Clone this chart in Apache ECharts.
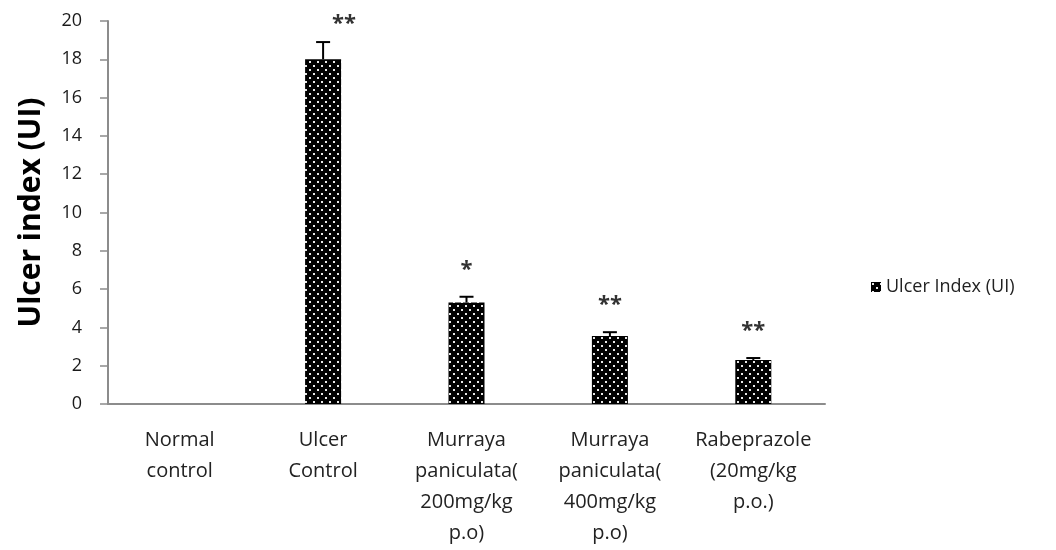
<!DOCTYPE html>
<html>
<head>
<meta charset="utf-8">
<script src="https://cdn.jsdelivr.net/npm/echarts@6/dist/echarts.min.js"></script>
<style>html,body{margin:0;padding:0;background:#fff}#c{width:1056px;height:550px}</style>
</head>
<body>
<div id="c"></div>
<script>
const categories = ['Normal\ncontrol', 'Ulcer\nControl', 'Murraya\npaniculata(\n200mg/kg\np.o)', 'Murraya\npaniculata(\n400mg/kg\np.o)', 'Rabeprazole\n(20mg/kg\np.o.)'];
const values = [0, 18.0, 5.3, 3.55, 2.3];
const errors = [0, 0.9, 0.3, 0.2, 0.1];
const significance = ['', '**', '*', '**', '**'];
const seriesName = 'Ulcer Index (UI)';
const yAxisTitle = 'Ulcer index (UI)';

function makePattern() {
  const c = document.createElement('canvas');
  c.width = 8; c.height = 8;
  const ctx = c.getContext('2d');
  ctx.fillStyle = '#000'; ctx.fillRect(0, 0, 8, 8);
  ctx.fillStyle = '#e8e8e8';
  ctx.fillRect(1, 1, 2, 2);
  ctx.fillRect(5, 5, 2, 2);
  return c;
}
const pattern = { image: makePattern(), repeat: 'repeat' };
const FONT = '"Open Sans", sans-serif';

const chart = echarts.init(document.getElementById('c'));
chart.setOption({
  animation: false,
  grid: { left: 108, right: 231, top: 21, bottom: 146, containLabel: false },
  legend: {
    data: [{ name: seriesName, icon: 'rect' }],
    left: 866, top: 273, itemWidth: 10, itemHeight: 10, itemGap: 6,
    textStyle: { fontFamily: FONT, fontSize: 18, color: '#222' }
  },
  xAxis: {
    type: 'category', data: categories,
    axisLine: { lineStyle: { color: '#8c8c8c', width: 2 } },
    axisTick: { show: false },
    axisLabel: { interval: 0, fontFamily: FONT, fontSize: 20, color: '#222', lineHeight: 31, margin: 21 }
  },
  yAxis: {
    type: 'value', min: 0, max: 20, interval: 2,
    name: yAxisTitle, nameLocation: 'middle', nameGap: 62,
    nameTextStyle: { fontFamily: FONT, fontSize: 30, fontWeight: 'bold', color: '#000' },
    axisLine: { show: true, lineStyle: { color: '#8c8c8c', width: 2 } },
    axisTick: { show: true, length: 8, lineStyle: { color: '#8c8c8c', width: 1.5 } },
    splitLine: { show: false },
    axisLabel: { fontFamily: FONT, fontSize: 18, color: '#1a1a1a', margin: 26 }
  },
  series: [
    {
      name: seriesName, type: 'bar', data: values, barWidth: 36,
      itemStyle: { color: pattern }
    },
    {
      type: 'custom', silent: true, z: 5,
      data: values.map((v, i) => [i, v, errors[i]]),
      renderItem: function (params, api) {
        const i = api.value(0), v = api.value(1), e = api.value(2);
        const sig = significance[i];
        const base = api.coord([i, v]);
        const top = api.coord([i, v + e]);
        const children = [];
        if (e > 0) {
          children.push({ type: 'line', shape: { x1: base[0], y1: base[1], x2: top[0], y2: top[1] }, style: { stroke: '#000', lineWidth: 2 } });
          children.push({ type: 'line', shape: { x1: top[0] - 7, y1: top[1], x2: top[0] + 7, y2: top[1] }, style: { stroke: '#000', lineWidth: 2 } });
        }
        if (sig) {
          let y = top[1] - 30;
          let x = top[0];
          const minY = api.coord([i, 20])[1];
          if (y < minY) { y = minY; x += 21; }
          children.push({ type: 'text', style: { text: sig, x: x, y: y + 3, align: 'center', verticalAlign: 'middle', fontFamily: FONT, fontSize: 22, fontWeight: 'bold', fill: '#333' } });
        }
        return { type: 'group', children: children };
      }
    }
  ]
});
</script>
</body>
</html>
